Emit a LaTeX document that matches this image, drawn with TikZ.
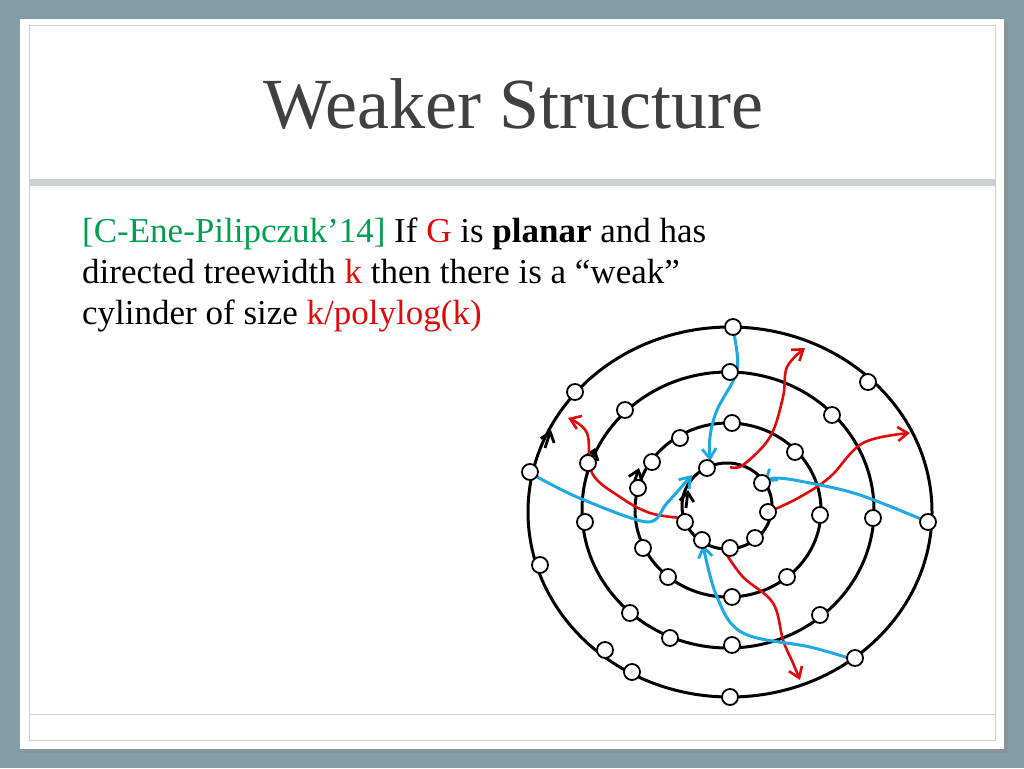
\documentclass[tikz,border=0pt]{standalone}
\usepackage{fontspec}
\setmainfont{Liberation Serif}
\usetikzlibrary{arrows.meta}
\definecolor{bg}{RGB}{132,158,168}
\definecolor{frame}{RGB}{205,208,210}
\definecolor{grn}{RGB}{0,160,80}
\definecolor{rd}{RGB}{225,10,10}
\definecolor{bl}{RGB}{30,170,225}
\definecolor{ttl}{RGB}{64,64,64}
\begin{document}
\begin{tikzpicture}[x=1pt,y=-1pt,
  vtx/.style={circle,draw,line width=1.8pt,fill=white,inner sep=0pt,minimum size=16pt},
  ring/.style={line width=3pt},
  rpath/.style={rd,line width=2.6pt,-{Straight Barb[length=10pt,width=14pt,line width=2.6pt]}},
  bpath/.style={bl,line width=3pt,-{Straight Barb[length=10pt,width=14pt,line width=2.8pt]}},
  chev/.style={line width=2.8pt,-{Straight Barb[length=9pt,width=14pt,line width=2.8pt]}}]
\useasboundingbox (0,0) rectangle (1024,768);
\fill[bg] (0,0) rectangle (1024,768);
\fill[black!45,opacity=0.5] (24,23) rectangle (1008,753);
\fill[white] (20,19) rectangle (1004,749);
\draw[frame,line width=1pt] (29,26) rectangle (995,740);
\fill[frame] (29,179) rectangle (995,186);
\draw[frame,line width=1pt] (29,714) -- (995,714);
\node[anchor=base,text=ttl,font=\fontsize{72}{72}\selectfont] (title) at (513,128) {Weaker Structure};
\node[anchor=base west,inner sep=0pt,font=\fontsize{35}{35}\selectfont] (l1) at (82,242)
  {\textcolor{grn}{[C-Ene-Pilipczuk’14]} If \textcolor{rd}{G} is \textbf{planar} and has};
\node[anchor=base west,inner sep=0pt,font=\fontsize{35}{35}\selectfont] (l2) at (82,283)
  {directed treewidth \textcolor{rd}{k} then there is a “weak”};
\node[anchor=base west,inner sep=0pt,font=\fontsize{35}{35}\selectfont] (l3) at (82,324)
  {cylinder of size \textcolor{rd}{k/polylog(k)}};
% rings
\draw[ring] (730,512) ellipse (202 and 185);
\draw[ring] (728,510) ellipse (146 and 138);
\draw[ring] (728,510) ellipse (93 and 87);
\draw[ring] (727,506) ellipse (45 and 43);
% chevrons
\draw[chev] (545,448) -- (551,430);
\draw[chev] (589,466) -- (595,448);
\draw[chev] (633,486) -- (639,468);
\draw[chev] (686,508) -- (688,490);
% paths
\draw[rpath] plot[smooth,tension=0.6] coordinates {(682,518) (650,513) (620,497) (592,473) (587,433) (568,418)};
\draw[rpath] plot[smooth,tension=0.6] coordinates {(730,467) (743,465) (770,437) (783,397) (787,367) (805,348)};
\draw[rpath] plot[smooth,tension=0.6] coordinates {(773,510) (800,497) (830,477) (863,443) (910,433)};
\draw[rpath] plot[smooth,tension=0.6] coordinates {(725,552) (743,577) (773,603) (783,640) (793,663) (800,680)};
\draw[bpath] plot[smooth,tension=0.6] coordinates {(733,330) (737,370) (717,410) (710,437) (710,461)};
\draw[bpath] plot[smooth,tension=0.5] coordinates {(530,473) (577,497) (647,522) (667,503) (692,475)};
\draw[bpath] plot[smooth,tension=0.6] coordinates {(928,522) (860,495) (810,483) (777,478) (764,482)};
\draw[bpath] plot[smooth,tension=0.6] coordinates {(855,660) (810,647) (743,633) (717,597) (703,545)};
% vertices
\foreach \p [count=\i] in {(733,327),(868,382),(928,522),(855,658),(730,697),(632,672),(605,650),(540,565),(530,472),(575,392)}
  \node[vtx] (a\i) at \p {};
\foreach \p [count=\i] in {(730,372),(832,415),(873,518),(820,615),(732,645),(670,638),(630,613),(585,522),(588,463),(625,410)}
  \node[vtx] (b\i) at \p {};
\foreach \p [count=\i] in {(732,423),(795,452),(820,515),(787,577),(732,597),(668,577),(643,548),(638,488),(652,462),(680,438)}
  \node[vtx] (c\i) at \p {};
\foreach \p [count=\i] in {(707,468),(762,483),(768,512),(755,538),(730,548),(702,540),(685,522)}
  \node[vtx] (d\i) at \p {};
\end{tikzpicture}
\end{document}
